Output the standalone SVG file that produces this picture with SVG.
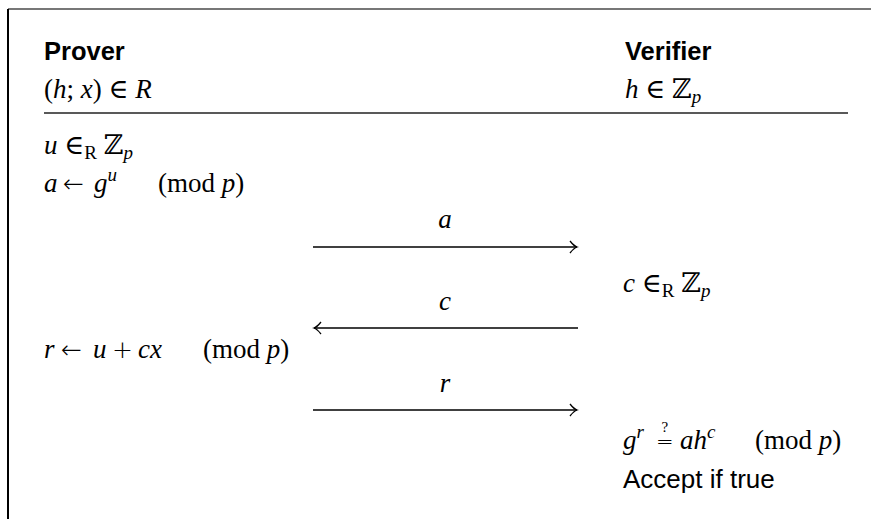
<svg xmlns="http://www.w3.org/2000/svg" width="871" height="519" viewBox="0 0 871 519">
<style>
.h{font-family:"Liberation Sans",Arial,sans-serif;font-weight:bold;font-size:25.5px;fill:#000}
.t{font-family:"Liberation Sans",Arial,sans-serif;font-size:26px;fill:#000}
.m{font-family:"Liberation Serif","DejaVu Serif",serif;font-size:27px;fill:#000}
.i{font-style:italic}
.s{font-size:19px}
.q{font-size:15px}
.ar{font-family:"DejaVu Sans",sans-serif;font-weight:200;font-size:25px}
.eq{font-family:"DejaVu Sans",sans-serif;font-weight:200;font-size:21px}
.conn{stroke:#000;stroke-width:1.3;fill:none}
</style>
<defs>
<marker id="ah" viewBox="-10 -7 12 14" markerWidth="12" markerHeight="14" refX="0" refY="0" orient="auto" markerUnits="userSpaceOnUse">
<path d="M-7,-6 Q-3,-1 0,0 Q-3,1 -7,6" stroke="#000" stroke-width="1.3" fill="none"/>
</marker>
</defs>
<rect width="871" height="519" fill="#fff"/>
<g id="frame">
<line x1="8" y1="9" x2="871" y2="9" stroke="#777" stroke-width="2"/>
<line x1="8" y1="9" x2="8" y2="519" stroke="#000" stroke-width="2"/>
<line x1="44" y1="113" x2="848" y2="113" stroke="#222" stroke-width="1.5"/>
</g>
<g id="prover">
<text class="h" x="44" y="60">Prover</text>
<text class="m" x="44" y="98">(<tspan class="i">h</tspan>; <tspan class="i">x</tspan>) ∈ <tspan class="i">R</tspan></text>
<text class="m" x="44" y="154"><tspan class="i">u</tspan> ∈<tspan class="s" dy="5">R</tspan><tspan dy="-5"> ℤ</tspan><tspan class="s i" dy="5">p</tspan></text>
<text class="m" x="44" y="192"><tspan class="i">a</tspan><tspan class="ar" x="63">←</tspan><tspan class="i" x="94">g</tspan><tspan class="s i" dy="-11">u</tspan><tspan dy="11" x="158">(mod </tspan><tspan class="i">p</tspan>)</text>
<text class="m" x="44" y="358"><tspan class="i">r</tspan><tspan class="ar" x="61">←</tspan><tspan class="i" x="93">u</tspan><tspan class="ar" x="112">+</tspan><tspan class="i" x="138">cx</tspan><tspan x="203">(mod </tspan><tspan class="i">p</tspan>)</text>
</g>
<g id="verifier">
<text class="h" x="625" y="60">Verifier</text>
<text class="m" x="625" y="98"><tspan class="i">h</tspan> ∈ ℤ<tspan class="s i" dy="5">p</tspan></text>
<text class="m" x="623" y="292"><tspan class="i">c</tspan> ∈<tspan class="s" dy="5">R</tspan><tspan dy="-5"> ℤ</tspan><tspan class="s i" dy="5">p</tspan></text>
<text class="m" x="623" y="449"><tspan class="i">g</tspan><tspan class="s i" dy="-11">r</tspan><tspan class="q" x="661.5" dy="-6">?</tspan><tspan class="eq" x="656" dy="17">=</tspan><tspan class="i" x="680">ah</tspan><tspan class="s i" dy="-11">c</tspan><tspan dy="11" x="755">(mod </tspan><tspan class="i">p</tspan>)</text>
<text class="t" x="623" y="488">Accept if true</text>
</g>
<g id="connectors">
<line class="conn" x1="313" y1="247" x2="577" y2="247" marker-end="url(#ah)"/>
<line class="conn" x1="578" y1="328" x2="314" y2="328" marker-end="url(#ah)"/>
<line class="conn" x1="313" y1="410" x2="577" y2="410" marker-end="url(#ah)"/>
<text class="m i" x="445" y="228" text-anchor="middle">a</text>
<text class="m i" x="445" y="310" text-anchor="middle">c</text>
<text class="m i" x="445" y="392" text-anchor="middle">r</text>
</g>
</svg>
